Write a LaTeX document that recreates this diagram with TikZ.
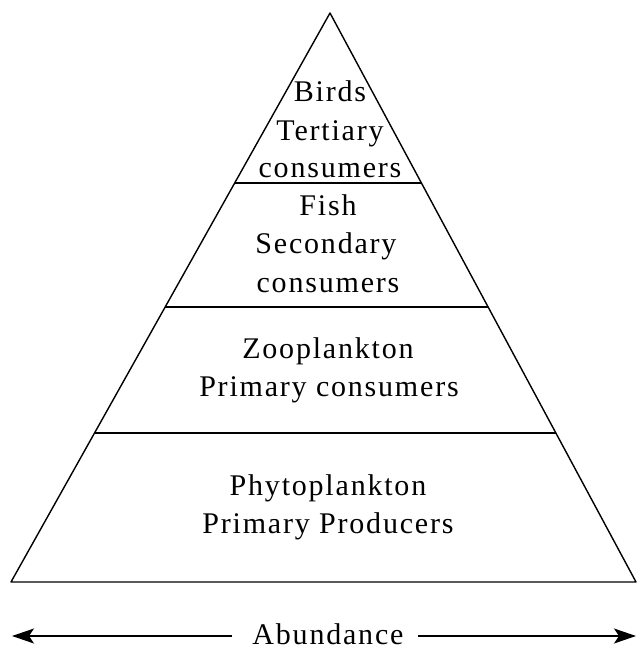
\documentclass[tikz,border=0pt]{standalone}
\usepackage{fontspec}
\setmainfont{Liberation Serif}[LetterSpace=6]
\usetikzlibrary{arrows.meta}
\begin{document}
\begin{tikzpicture}[x=1pt,y=-1pt,
  edge/.style={line width=1.4pt, line join=round},
  lbl/.style={anchor=base, inner sep=0pt, font=\fontsize{30}{35}\selectfont},
  arr/.style={line width=1.4pt, -{Stealth[length=22pt,width=15pt,inset=5pt]}}]
\useasboundingbox (0,0) rectangle (638,650);
% triangle corners
\coordinate (apex) at (330,13);
\coordinate (bl) at (11,582);
\coordinate (br) at (636,582);
\draw[edge] (apex) -- (bl) -- (br) -- cycle;
% tier lines
\coordinate (l1a) at (235,183); \coordinate (l1b) at (421,183);
\coordinate (l2a) at (165,307); \coordinate (l2b) at (488,307);
\coordinate (l3a) at (95,433);  \coordinate (l3b) at (556,433);
\draw[edge] (l1a) -- (l1b);
\draw[edge] (l2a) -- (l2b);
\draw[edge] (l3a) -- (l3b);
% labels
\node[lbl] (b1) at (330,102) {Birds};
\node[lbl] (b2) at (330,140) {Tertiary};
\node[lbl] (b3) at (330,177) {consumers};
\node[lbl] (f1) at (328,215) {Fish};
\node[lbl] (f2) at (326,253) {Secondary};
\node[lbl] (f3) at (328,292) {consumers};
\node[lbl] (z1) at (328,358) {Zooplankton};
\node[lbl] (z2) at (329,396) {Primary consumers};
\node[lbl] (p1) at (328,495) {Phytoplankton};
\node[lbl] (p2) at (328,533) {Primary Producers};
% abundance
\node[lbl] (ab) at (328,644) {Abundance};
\coordinate (al) at (12,636);
\coordinate (ar) at (636,636);
\draw[arr] (ab.west |- al) ++(-20,0) coordinate (alx) -- (al);
\draw[arr] (ab.east |- ar) ++(14,0) coordinate (arx) -- (ar);
\end{tikzpicture}
\end{document}
